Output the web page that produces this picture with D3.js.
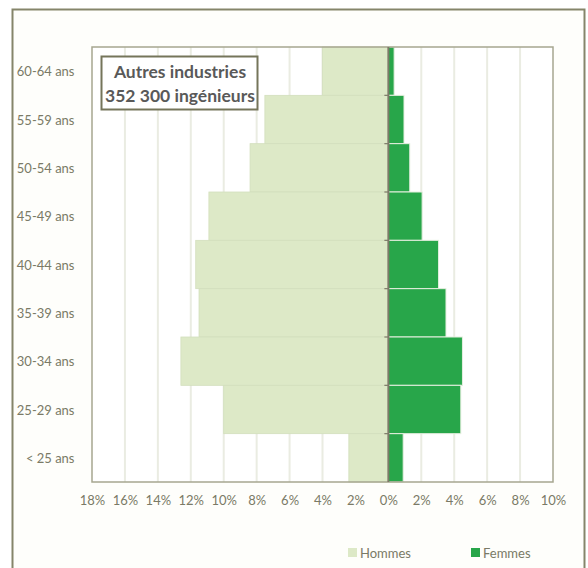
<!DOCTYPE html>
<html>
<head>
<meta charset="utf-8">
<script src="https://cdn.jsdelivr.net/npm/d3@7/dist/d3.min.js"></script>
<style>
  html, body { margin: 0; padding: 0; background: #ffffff; }
  svg { display: block; }
  text { font-family: Lato, "Open Sans", sans-serif; }
</style>
</head>
<body>
<script>
// Age groups, top to bottom
const ageGroups = ["60-64 ans", "55-59 ans", "50-54 ans", "45-49 ans", "40-44 ans",
                   "35-39 ans", "30-34 ans", "25-29 ans", "< 25 ans"];
// Share of engineers (%) per age group
const hommes = [4.0, 7.5, 8.4, 10.9, 11.7, 11.5, 12.6, 10.0, 2.4];
const femmes = [0.35, 0.95, 1.3, 2.05, 3.05, 3.5, 4.5, 4.4, 0.9];
// Axis ticks (signed: men to the left)
const tickValues = [-18, -16, -14, -12, -10, -8, -6, -4, -2, 0, 2, 4, 6, 8, 10];
const seriesNames = ["Hommes", "Femmes"];
const titleLines = ["Autres industries", "352 300 ingénieurs"];

const W = 588, H = 568;
const plot = { left: 92, top: 47, right: 553, bottom: 482 };
const colHommes = "#dde9c7", colFemmes = "#28a64a";

const svg = d3.select("body").append("svg").attr("width", W).attr("height", H);

// Outer chart frame
svg.append("rect").attr("x", 12.5).attr("y", 9.5).attr("width", 572).attr("height", 570)
  .attr("fill", "#fefefb").attr("stroke", "#85856a").attr("stroke-width", 2);

const x = d3.scaleLinear().domain([-18, 10]).range([plot.left, plot.right]);
const y = d3.scaleBand().domain(ageGroups).range([plot.top, plot.bottom]).padding(0);

// Plot background
svg.append("rect").attr("x", plot.left).attr("y", plot.top)
  .attr("width", plot.right - plot.left).attr("height", plot.bottom - plot.top)
  .attr("fill", "#ffffff");

// Vertical gridlines
svg.append("g").selectAll("line").data(tickValues.filter(t => t !== 0 && t !== -18 && t !== 10))
  .join("line")
  .attr("x1", d => x(d)).attr("x2", d => x(d))
  .attr("y1", plot.top).attr("y2", plot.bottom)
  .attr("stroke", "#eaece2").attr("stroke-width", 2);

// Men bars (left)
svg.append("g").selectAll("rect").data(ageGroups).join("rect")
  .attr("x", (d, i) => x(-hommes[i]))
  .attr("y", d => y(d))
  .attr("width", (d, i) => x(0) - x(-hommes[i]))
  .attr("height", y.bandwidth())
  .attr("fill", colHommes)
  .attr("stroke", "#d3dfbd").attr("stroke-width", 0.8);

// Women bars (right)
svg.append("g").selectAll("rect").data(ageGroups).join("rect")
  .attr("x", x(0))
  .attr("y", d => y(d))
  .attr("width", (d, i) => x(femmes[i]) - x(0))
  .attr("height", y.bandwidth())
  .attr("fill", colFemmes)
  .attr("stroke", "#e6efe0").attr("stroke-width", 1);

// Plot border
svg.append("rect").attr("x", plot.left).attr("y", plot.top)
  .attr("width", plot.right - plot.left).attr("height", plot.bottom - plot.top)
  .attr("fill", "none").attr("stroke", "#a6a690").attr("stroke-width", 1.5);

// Zero axis with ticks at band boundaries
const zeroX = x(0);
svg.append("line").attr("x1", zeroX).attr("x2", zeroX)
  .attr("y1", plot.top).attr("y2", plot.bottom)
  .attr("stroke", "#7d7b68").attr("stroke-width", 2);
svg.append("g").selectAll("line").data(ageGroups.slice(1)).join("line")
  .attr("x1", zeroX - 4).attr("x2", zeroX)
  .attr("y1", d => y(d)).attr("y2", d => y(d))
  .attr("stroke", "#7d7b68").attr("stroke-width", 1.2);

// Category labels
svg.append("g").selectAll("text").data(ageGroups).join("text")
  .attr("x", 74.5).attr("y", d => y(d) + y.bandwidth() / 2)
  .attr("text-anchor", "end").attr("dominant-baseline", "central")
  .attr("font-size", 13).attr("fill", "#7a7a66")
  .text(d => d);

// X axis tick labels
const xAxis = d3.axisBottom(x).tickValues(tickValues)
  .tickFormat(d => Math.abs(d) + "%").tickSize(0).tickPadding(14);
const gx = svg.append("g").attr("transform", `translate(0,${plot.bottom})`).call(xAxis);
gx.select(".domain").remove();
gx.selectAll("text").attr("font-size", 13).attr("fill", "#7a7a66")
  .attr("font-family", "Lato, 'Open Sans', sans-serif");

// Title box
const tb = svg.append("g");
tb.append("rect").attr("x", 101.5).attr("y", 56.5).attr("width", 156).attr("height", 53)
  .attr("fill", "#ffffff").attr("stroke", "#75755a").attr("stroke-width", 2);
tb.selectAll("text").data(titleLines).join("text")
  .attr("x", 180).attr("y", (d, i) => 78 + i * 24)
  .attr("text-anchor", "middle")
  .attr("font-size", 17.5).attr("font-weight", "bold").attr("fill", "#595959")
  .text(d => d);

// Legend
const legendItems = [
  { name: seriesNames[0], color: colHommes, x: 348 },
  { name: seriesNames[1], color: colFemmes, x: 471 }
];
const lg = svg.append("g");
lg.selectAll("rect").data(legendItems).join("rect")
  .attr("x", d => d.x).attr("y", 548).attr("width", 9).attr("height", 9)
  .attr("fill", d => d.color);
lg.selectAll("text").data(legendItems).join("text")
  .attr("x", d => d.x + 12).attr("y", 553).attr("dominant-baseline", "central")
  .attr("font-size", 13).attr("fill", "#7a7a66")
  .text(d => d.name);
</script>
</body>
</html>
